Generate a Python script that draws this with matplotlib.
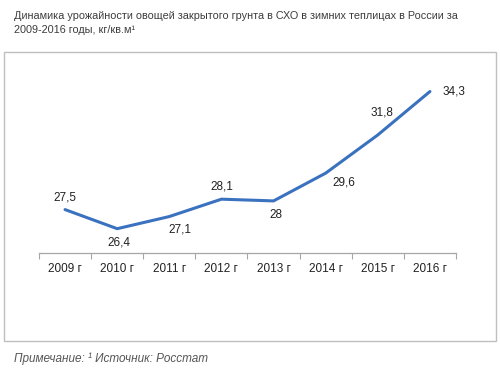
import matplotlib
matplotlib.use("Agg")
import matplotlib.pyplot as plt
from matplotlib.patches import Rectangle

# values
years = ["2009 г", "2010 г", "2011 г", "2012 г", "2013 г", "2014 г", "2015 г", "2016 г"]
yields = [27.5, 26.4, 27.1, 28.1, 28.0, 29.6, 31.8, 34.3]
value_labels = ["27,5", "26,4", "27,1", "28,1", "28", "29,6", "31,8", "34,3"]

# label placement offsets (points) for each data label
label_offsets = [(0, 9), (1, -10), (8, -9), (0, 9), (2, -10), (13, -7), (3, 16), (17, 0)]

title_text = ("Динамика урожайности овощей закрытого грунта в СХО в зимних теплицах в России за\n"
              "2009-2016 годы, кг/кв.м\u00b9")
note_text = "Примечание: \u00b9 Источник: Росстат"

narrow = ["Liberation Sans", "DejaVu Sans"]

fig = plt.figure(figsize=(5.0, 3.68), dpi=100)
ax = fig.add_axes([0.078, 0.3125, 0.834, 0.519])

x = list(range(len(years)))
ax.plot(x, yields, color="#3b72bf", linewidth=2.2, solid_joinstyle="round", solid_capstyle="round")

for xi, v, lab, off in zip(x, yields, value_labels, label_offsets):
    ax.annotate(lab, (xi, v), xytext=off, textcoords="offset points",
                ha="center", va="center", fontsize=8.5, family="Liberation Sans", color="#222222")

ax.set_xlim(-0.5, len(years) - 0.5)
ax.set_ylim(25, 36)
ax.set_yticks([])
ax.set_xticks(x)
ax.set_xticklabels(years, fontsize=8.5, family="Liberation Sans", color="#222222")
ax.set_xticks([i - 0.5 for i in range(len(years) + 1)], minor=True)
ax.tick_params(axis="x", which="major", length=0, pad=7)
ax.tick_params(axis="x", which="minor", length=4, width=0.8, color="#a6a6a6", direction="out")
for side in ["top", "right", "left"]:
    ax.spines[side].set_visible(False)
ax.spines["bottom"].set_color("#a6a6a6")
ax.spines["bottom"].set_linewidth(0.9)

# outer frame around the chart
fig.patches.append(Rectangle((0.008, 0.073), 0.984, 0.786, transform=fig.transFigure,
                             fill=False, edgecolor="#bfbfbf", linewidth=1.0))

fig.text(0.028, 0.97, title_text, ha="left", va="top", fontsize=7.85, family=narrow,
         color="#3c3c3c", linespacing=1.45)
fig.text(0.028, 0.025, note_text, ha="left", va="center", fontsize=8.5, family=narrow,
         style="italic", color="#555555")

fig.savefig("out.png", dpi=100)
